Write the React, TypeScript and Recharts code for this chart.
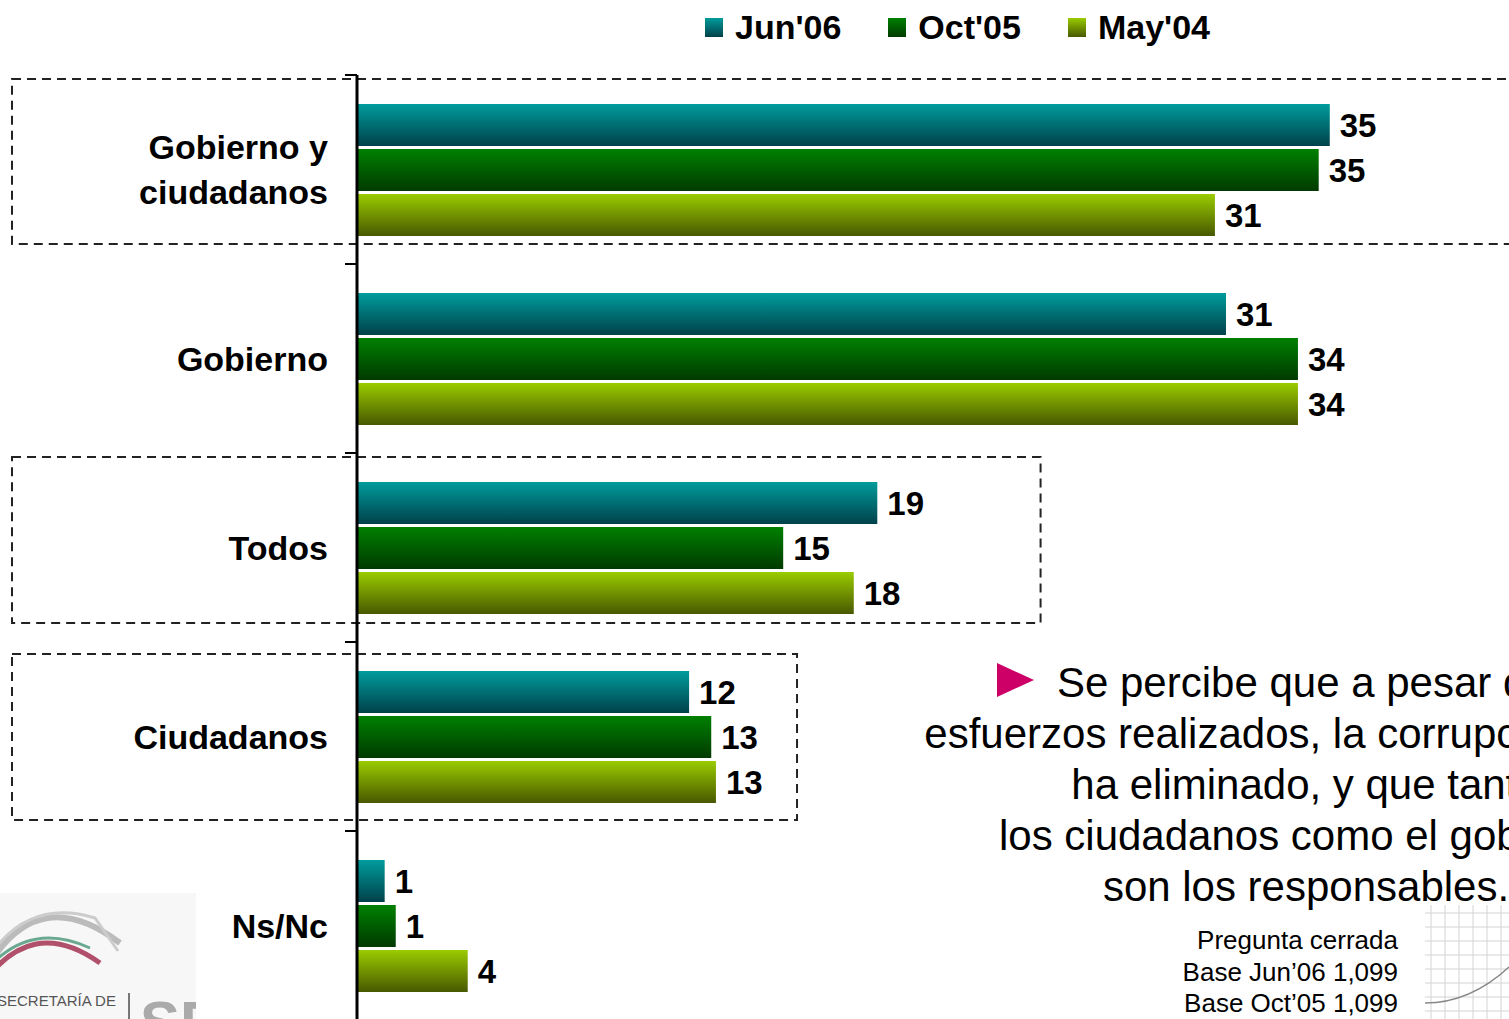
import { BarChart, Bar, XAxis, YAxis, LabelList, ReferenceArea } from "recharts";

const categories = ["Gobierno y\nciudadanos", "Gobierno", "Todos", "Ciudadanos", "Ns/Nc"];
const jun06 = [35.15, 31.4, 18.8, 12.0, 1.0];
const oct05 = [34.75, 34.0, 15.4, 12.8, 1.4];
const may04 = [31.0, 34.0, 17.95, 12.97, 4.0];

const series = [
  { key: "jun06", name: "Jun'06", top: "#009c9c", bottom: "#00414a" },
  { key: "oct05", name: "Oct'05", top: "#008000", bottom: "#003a00" },
  { key: "may04", name: "May'04", top: "#9acc00", bottom: "#485800" },
];

// dashed boxes drawn around some categories (x end in data units)
const boxCategories = [categories[0], categories[2], categories[3]];
const boxEnds = [45, 24.7, 15.9];
const boxInsets = [
  [4, 20],
  [4, 19],
  [12, 11],
];

const footnote = ["Pregunta cerrada", "Base Jun\u201906 1,099", "Base Oct\u201905 1,099"];

const data = categories.map((name, i) => ({
  name,
  jun06: jun06[i],
  oct05: oct05[i],
  may04: may04[i],
}));

const FONT = "'Liberation Sans', Arial, sans-serif";
const W = 1509;
const H = 1020;
const MARGIN = { top: 75, right: 45, bottom: 0, left: 0 };
const AXIS_W = 357;
const BAND = (H - MARGIN.top - MARGIN.bottom) / categories.length;
const BOX_LEFT = 12;

function CategoryTick({ y, payload }: any) {
  const lines = String(payload.value).split("\n");
  const tx = AXIS_W - 29;
  const first = (-(lines.length - 1) * 45) / 2 + 12;
  return (
    <g>
      <line x1={AXIS_W - 12} x2={AXIS_W} y1={y - BAND / 2} y2={y - BAND / 2} stroke="#000" strokeWidth={2} />
      <text x={tx} y={y} textAnchor="end" fontSize={34} fontWeight="bold" fontFamily={FONT} fill="#000">
        {lines.map((l, i) => (
          <tspan key={i} x={tx} dy={i === 0 ? first : 45}>
            {l}
          </tspan>
        ))}
      </text>
    </g>
  );
}

function dashedBox(inset: number[]) {
  return (props: any) => {
    const right = props.x + props.width;
    return (
      <rect
        x={BOX_LEFT}
        y={props.y + inset[0]}
        width={right - BOX_LEFT}
        height={props.height - inset[0] - inset[1]}
        fill="none"
        stroke="#222"
        strokeWidth={2}
        strokeDasharray="9 6"
      />
    );
  };
}

function Logo() {
  return (
    <svg width={196} height={126} style={{ position: "absolute", left: 0, top: 893 }}>
      <rect x={0} y={0} width={196} height={126} fill="#f7f7f7" />
      <path d="M-10 70 Q40 -10 120 50" fill="none" stroke="#bbb" strokeWidth={6} />
      <path d="M-10 62 Q30 5 95 25 L118 58" fill="none" stroke="#ccc" strokeWidth={3} />
      <path d="M-20 95 Q30 20 100 70" fill="none" stroke="#b0506a" strokeWidth={5} />
      <path d="M-20 85 Q25 25 90 55" fill="none" stroke="#6aa890" strokeWidth={3} />
      <text x={-3} y={113} fontSize={15} fill="#555" fontFamily={FONT}>
        SECRETARÍA DE
      </text>
      <line x1={129} x2={129} y1={100} y2={126} stroke="#777" strokeWidth={2} />
      <text x={140} y={150} fontSize={60} fill="#aaa" fontFamily={FONT} fontWeight="bold">
        SFP
      </text>
    </svg>
  );
}

function GridPaper() {
  const xs = [0, 14, 28, 42, 56, 70];
  const ys = [0, 14, 28, 42, 56, 70, 84, 98, 112];
  return (
    <svg width={84} height={114} style={{ position: "absolute", left: 1425, top: 905 }}>
      {xs.map((x) => (
        <line key={"v" + x} x1={x + 6} x2={x + 6} y1={0} y2={114} stroke="#d4d4d4" strokeWidth={1} />
      ))}
      {ys.map((y) => (
        <line key={"h" + y} x1={0} x2={84} y1={y + 8} y2={y + 8} stroke="#d4d4d4" strokeWidth={1} />
      ))}
      <path d="M0 98 Q45 98 84 62" fill="none" stroke="#888" strokeWidth={1.5} />
    </svg>
  );
}

export default function App() {
  return (
    <div
      style={{
        position: "absolute",
        left: 0,
        top: 0,
        width: W,
        height: 1019,
        overflow: "hidden",
        background: "#fff",
        fontFamily: FONT,
      }}
    >
      <Logo />
      <GridPaper />

      <div
        style={{
          position: "absolute",
          left: 705,
          top: 8,
          height: 38,
          display: "flex",
          alignItems: "center",
          gap: 47,
        }}
      >
        {series.map((s) => (
          <div key={s.key} style={{ display: "flex", alignItems: "center" }}>
            <span
              style={{
                display: "inline-block",
                width: 18,
                height: 19,
                marginRight: 12,
                background: `linear-gradient(${s.top}, ${s.bottom})`,
              }}
            />
            <span style={{ fontSize: 34, fontWeight: "bold", color: "#000", lineHeight: "38px" }}>{s.name}</span>
          </div>
        ))}
      </div>

      <div style={{ position: "absolute", left: 0, top: 0 }}>
        <BarChart
          width={W}
          height={H}
          data={data}
          layout="vertical"
          margin={MARGIN}
          barCategoryGap={29}
          barGap={3}
        >
          <defs>
            {series.map((s) => (
              <linearGradient key={s.key} id={"grad-" + s.key} x1="0" y1="0" x2="0" y2="1">
                <stop offset="0%" stopColor={s.top} />
                <stop offset="100%" stopColor={s.bottom} />
              </linearGradient>
            ))}
          </defs>
          <XAxis type="number" domain={[0, 40]} hide />
          <YAxis
            type="category"
            dataKey="name"
            width={AXIS_W}
            axisLine={{ stroke: "#000", strokeWidth: 3 }}
            tickLine={false}
            tick={(p: any) => <CategoryTick {...p} />}
            interval={0}
          />
          {boxCategories.map((c, i) => (
            <ReferenceArea
              key={c}
              y1={c}
              y2={c}
              x1={0}
              x2={boxEnds[i]}
              ifOverflow="visible"
              shape={dashedBox(boxInsets[i])}
            />
          ))}
          {series.map((s) => (
            <Bar key={s.key} dataKey={s.key} name={s.name} fill={`url(#grad-${s.key})`} isAnimationActive={false}>
              <LabelList
                dataKey={s.key}
                position="right"
                offset={10}
                formatter={(v: any) => Math.round(Number(v))}
                style={{ fontSize: 33, fontWeight: "bold", fill: "#000", fontFamily: FONT }}
              />
            </Bar>
          ))}
        </BarChart>
      </div>

      <div
        style={{
          position: "absolute",
          left: 1306 - 450,
          top: 657,
          width: 900,
          textAlign: "center",
          fontSize: 42,
          lineHeight: "51px",
          whiteSpace: "nowrap",
          color: "#000",
        }}
      >
        <span
          style={{
            display: "inline-block",
            width: 0,
            height: 0,
            borderTop: "17px solid transparent",
            borderBottom: "17px solid transparent",
            borderLeft: "37px solid #cc0066",
            marginRight: 23,
          }}
        />
        Se percibe que a pesar de los
        <br />
        esfuerzos realizados, la corrupción no se
        <br />
        ha eliminado, y que tanto
        <br />
        los ciudadanos como el gobierno
        <br />
        son los responsables.
      </div>

      <div
        style={{
          position: "absolute",
          right: W - 1398,
          top: 925,
          textAlign: "right",
          fontSize: 26,
          lineHeight: "31.5px",
          color: "#000",
          whiteSpace: "nowrap",
        }}
      >
        {footnote.map((f) => (
          <div key={f}>{f}</div>
        ))}
      </div>
    </div>
  );
}
